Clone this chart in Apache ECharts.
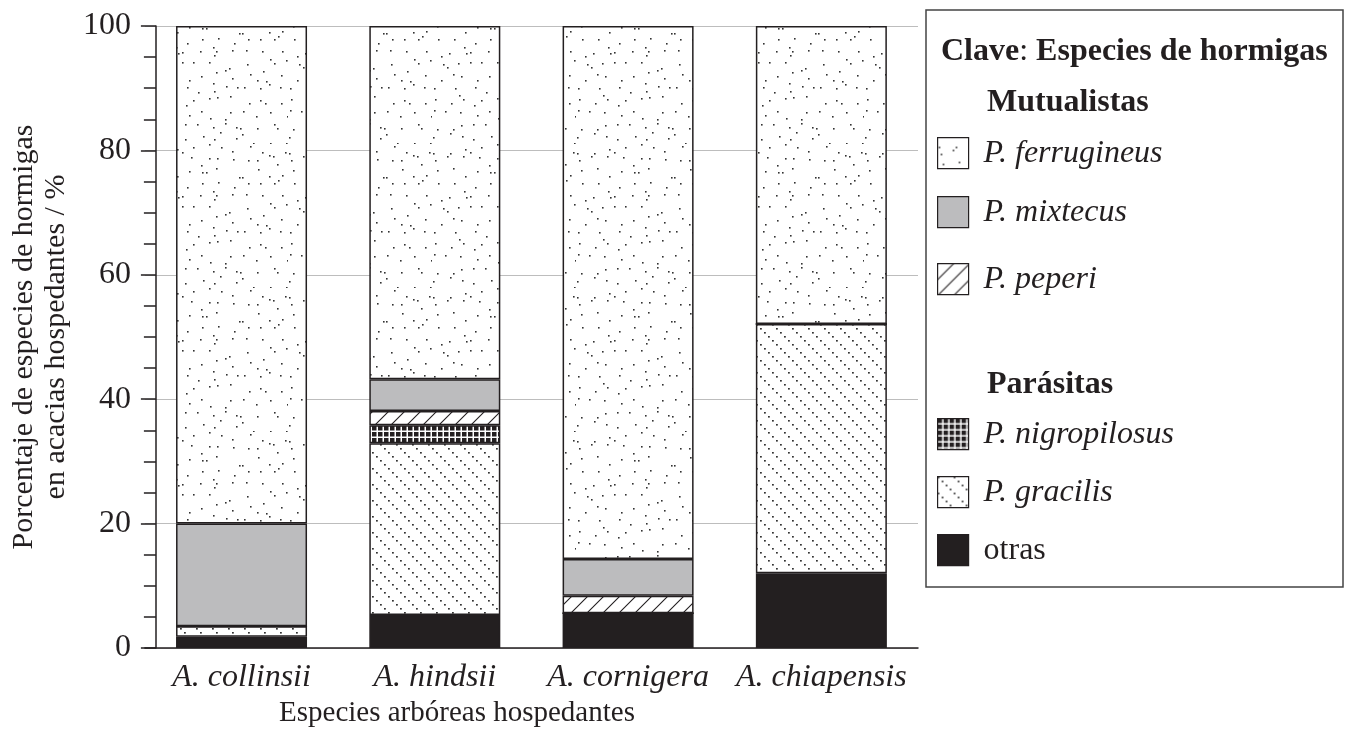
<!DOCTYPE html>
<html>
<head>
<meta charset="utf-8">
<script src="https://cdn.jsdelivr.net/npm/echarts@6/dist/echarts.min.js"></script>
<style>
  html, body { margin: 0; padding: 0; background: #fff; }
  #chart { width: 1349px; height: 744px; }
</style>
</head>
<body>
<div id="chart"></div>
<script>
// datos (% de cada especie de hormiga por acacia)
const categories = ['A. collinsii', 'A. hindsii', 'A. cornigera', 'A. chiapensis']
const otras = [1.8, 5.3, 5.6, 12.0]
const gracilis = [1.7, 27.6, 0, 40.1]
const nigropilosus = [0, 2.9, 0, 0]
const peperi = [0, 2.3, 2.8, 0]
const mixtecus = [16.5, 5.1, 5.9, 0]
const ferrugineus = [80.0, 56.8, 85.7, 47.9]
const yTicks = [0, 20, 40, 60, 80, 100]

const FONT = 'Liberation Serif'
const FS = 32
const INK = '#231f20'

// texturas de relleno
function tile(w, h, draw) {
  const c = document.createElement('canvas')
  c.width = w; c.height = h
  const ctx = c.getContext('2d')
  ctx.fillStyle = '#fff'
  ctx.fillRect(0, 0, w, h)
  draw(ctx)
  return { image: c, repeat: 'repeat' }
}

// puntos dispersos: una celda de 12px con un punto desplazado (hash fijo)
function hash(n) {
  n = (n ^ 61) ^ (n >>> 16)
  n = Math.imul(n, 9) >>> 0
  n = n ^ (n >>> 4)
  n = Math.imul(n, 0x27d4eb2d) >>> 0
  n = n ^ (n >>> 15)
  return (n >>> 0) / 4294967296
}
const dotsFill = tile(144, 144, ctx => {
  ctx.fillStyle = '#333'
  let k = 1
  for (let gy = 0; gy < 12; gy++) {
    for (let gx = 0; gx < 12; gx++) {
      const x = gx * 12 + Math.floor(hash(k++) * 12)
      const y = gy * 12 + Math.floor(hash(k++) * 12)
      ctx.fillRect(x, y, 1.6, 1.6)
    }
  }
})

// rayado diagonal /
const hatchFill = tile(16, 16, ctx => {
  ctx.strokeStyle = INK
  ctx.lineWidth = 1.1
  ctx.beginPath()
  ctx.moveTo(-2, 18); ctx.lineTo(18, -2)
  ctx.moveTo(-2, 2); ctx.lineTo(2, -2)
  ctx.moveTo(14, 18); ctx.lineTo(18, 14)
  ctx.stroke()
})

// cuadrícula negra
const gridFill = tile(6, 6, ctx => {
  ctx.fillStyle = INK
  ctx.fillRect(0, 0, 6, 6)
  ctx.fillStyle = '#fff'
  ctx.fillRect(0, 4.5, 6, 1.5)
  ctx.fillRect(4.5, 0, 1.5, 6)
})

// líneas punteadas diagonales \
const dottedFill = tile(16, 16, ctx => {
  ctx.fillStyle = '#333'
  for (let k = 0; k < 4; k++) {
    ctx.fillRect(k * 4, k * 4, 1.8, 1.6)
  }
})

const seriesDefs = [
  { name: 'otras', data: otras, color: INK },
  { name: 'P. gracilis', data: gracilis, color: dottedFill },
  { name: 'P. nigropilosus', data: nigropilosus, color: gridFill },
  { name: 'P. peperi', data: peperi, color: hatchFill },
  { name: 'P. mixtecus', data: mixtecus, color: '#bcbcbe' },
  { name: 'P. ferrugineus', data: ferrugineus, color: dotsFill }
]

// orden y posición de la clave
const legendOrder = ['P. ferrugineus', 'P. mixtecus', 'P. peperi', 'P. nigropilosus', 'P. gracilis', 'otras']
const legendTops = [137, 196, 263, 418, 476, 534]

const chart = echarts.init(document.getElementById('chart'))

chart.setOption({
  animation: false,
  textStyle: { fontFamily: FONT },
  grid: { left: 141, right: 431, top: 26, bottom: 96 },
  xAxis: {
    type: 'category',
    data: categories,
    axisLine: { lineStyle: { color: INK, width: 1.5 } },
    axisTick: { show: false },
    axisLabel: {
      interval: 0,
      margin: 14,
      color: INK,
      fontFamily: FONT,
      fontSize: FS,
      fontStyle: 'italic'
    }
  },
  yAxis: {
    type: 'value',
    min: 0,
    max: 100,
    interval: 20,
    offset: -11,
    name: 'Porcentaje de especies de hormigas\nen acacias hospedantes / %',
    nameLocation: 'middle',
    nameGap: 80,
    nameTextStyle: { color: INK, fontFamily: FONT, fontSize: 30, lineHeight: 32 },
    axisLine: { show: true, lineStyle: { color: INK, width: 1.5 } },
    axisTick: { show: true, length: 15, lineStyle: { color: INK, width: 1.5 } },
    minorTick: { show: true, splitNumber: 4, length: 12, lineStyle: { color: INK, width: 1.5 } },
    axisLabel: {
      margin: 25,
      color: INK,
      fontFamily: FONT,
      fontSize: FS,
      formatter: v => (yTicks.includes(v) ? String(v) : '')
    },
    splitLine: { show: true, lineStyle: { color: '#bdbdbd', width: 1.2 } }
  },
  legend: legendOrder.map((n, i) => ({
    data: [n],
    left: 937,
    top: legendTops[i],
    orient: 'vertical',
    icon: 'rect',
    itemWidth: 31,
    itemHeight: 31,
    itemGap: 0,
    padding: 0,
    selectedMode: false,
    itemStyle: { borderColor: INK, borderWidth: 1.2 },
    formatter: name => (name === 'otras' ? '{n|' + name + '}' : '{i|' + name + '}'),
    textStyle: {
      padding: [0, 0, 0, 10],
      rich: {
        i: { fontFamily: FONT, fontSize: FS, fontStyle: 'italic', color: INK, lineHeight: 31 },
        n: { fontFamily: FONT, fontSize: FS, color: INK, lineHeight: 31 }
      }
    }
  })),
  graphic: [
    {
      type: 'rect',
      shape: { x: 926, y: 10, width: 417, height: 577 },
      style: { fill: 'none', stroke: '#444', lineWidth: 1.5 }
    },
    {
      type: 'text',
      x: 941,
      y: 52,
      style: {
        text: '{b|Clave}{r|: }{b|Especies de hormigas}',
        verticalAlign: 'middle',
        rich: {
          b: { fontFamily: FONT, fontSize: FS, fontWeight: 'bold', fill: INK },
          r: { fontFamily: FONT, fontSize: FS, fill: INK }
        }
      }
    },
    {
      type: 'text',
      x: 987,
      y: 103,
      style: { text: 'Mutualistas', font: 'bold 32px "Liberation Serif"', fill: INK, verticalAlign: 'middle' }
    },
    {
      type: 'text',
      x: 987,
      y: 385,
      style: { text: 'Parásitas', font: 'bold 32px "Liberation Serif"', fill: INK, verticalAlign: 'middle' }
    },
    {
      type: 'text',
      x: 457,
      y: 713,
      style: { text: 'Especies arbóreas hospedantes', font: '29px "Liberation Serif"', fill: INK, align: 'center', verticalAlign: 'middle' }
    }
  ],
  series: seriesDefs.map(s => ({
    name: s.name,
    type: 'bar',
    stack: 'total',
    barWidth: 131,
    data: s.data,
    itemStyle: { color: s.color, borderColor: INK, borderWidth: 1.5 }
  }))
})
</script>
</body>
</html>
